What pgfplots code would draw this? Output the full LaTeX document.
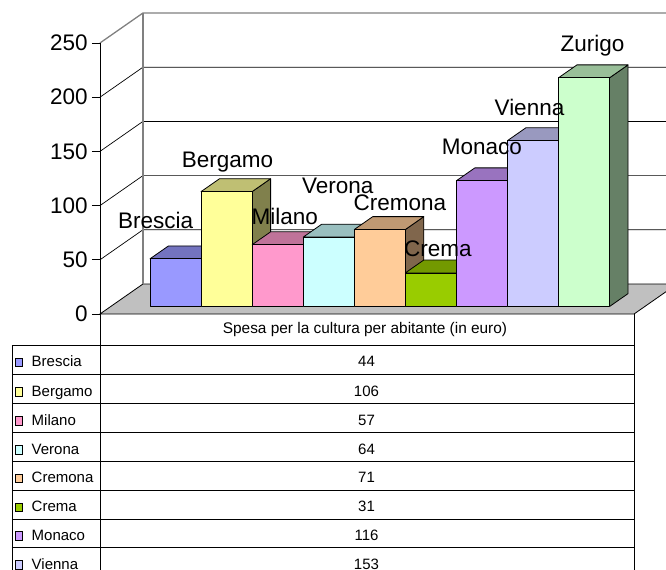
\documentclass[border=0pt]{standalone}
\usepackage{pgfplots}
\pgfplotsset{compat=1.18}
\usepackage{fontspec}
\setmainfont{Liberation Sans}
\definecolor{cBrescia}{HTML}{9999FF}
\definecolor{cBergamo}{HTML}{FFFF99}
\definecolor{cMilano}{HTML}{FF99CC}
\definecolor{cVerona}{HTML}{CCFFFF}
\definecolor{cCremona}{HTML}{FFCC99}
\definecolor{cCrema}{HTML}{99CC00}
\definecolor{cMonaco}{HTML}{CC99FF}
\definecolor{cVienna}{HTML}{CCCCFF}
\definecolor{cZurigo}{HTML}{CCFFCC}
\definecolor{floorgray}{HTML}{C0C0C0}
\definecolor{wallgray}{HTML}{808080}
\newcommand{\bigf}{\fontsize{22.5}{27}\selectfont}
\newcommand{\smallf}{\fontsize{15}{18}\selectfont}
\newcommand{\headf}{\fontsize{15.4}{18}\selectfont}
% #1 left, #2 right, #3 value, #4 colour
\newcommand{\cbar}[4]{%
 \addplot3[draw=black,line width=0.8pt,line join=round,fill=#4!50!black] coordinates {(#2,0.25,0) (#2,0.68,0) (#2,0.68,#3) (#2,0.25,#3)} -- cycle;
 \addplot3[draw=black,line width=0.8pt,line join=round,fill=#4!75!black] coordinates {(#1,0.25,#3) (#2,0.25,#3) (#2,0.68,#3) (#1,0.68,#3)} -- cycle;
 \addplot3[draw=black,line width=0.8pt,line join=round,fill=#4] coordinates {(#1,0.25,0) (#2,0.25,0) (#2,0.25,#3) (#1,0.25,#3)} -- cycle;
}
\begin{document}
\begin{tikzpicture}
\begin{axis}[hide axis, clip=false,
  x={(51.06pt,0pt)}, y={(43pt,30pt)}, z={(0pt,1.084pt)},
  xmin=-1.27, xmax=9.19, ymin=0, ymax=1, zmin=0, zmax=250]
% floor
\addplot3[draw=black, line width=0.8pt, fill=floorgray] coordinates {(-1.27,0,0) (9.19,0,0) (9.19,1,0) (-1.27,1,0)} -- cycle;
% gridlines (left wall + back wall)
\addplot3[black, line width=0.7pt] coordinates {(-1.27,0,50) (-1.27,1,50) (9.19,1,50)};
\addplot3[black, line width=0.7pt] coordinates {(-1.27,0,100) (-1.27,1,100) (9.19,1,100)};
\addplot3[black, line width=0.7pt] coordinates {(-1.27,0,150) (-1.27,1,150) (9.19,1,150)};
\addplot3[black, line width=0.7pt] coordinates {(-1.27,0,200) (-1.27,1,200) (9.19,1,200)};
% wall borders
\addplot3[wallgray, line width=1.3pt] coordinates {(-1.27,0,250) (-1.27,1,250) (9.19,1,250)};
\addplot3[wallgray, line width=1.3pt] coordinates {(-1.27,1,0) (-1.27,1,250)};
% front value axis
\addplot3[black, line width=0.8pt] coordinates {(-1.27,0,0) (-1.27,0,250)};
\addplot3[black, line width=0.8pt] coordinates {(-1.43,0,0) (-1.27,0,0)};
\addplot3[black, line width=0.8pt] coordinates {(-1.43,0,50) (-1.27,0,50)};
\addplot3[black, line width=0.8pt] coordinates {(-1.43,0,100) (-1.27,0,100)};
\addplot3[black, line width=0.8pt] coordinates {(-1.43,0,150) (-1.27,0,150)};
\addplot3[black, line width=0.8pt] coordinates {(-1.43,0,200) (-1.27,0,200)};
\addplot3[black, line width=0.8pt] coordinates {(-1.43,0,250) (-1.27,0,250)};
\pgfplotsinvokeforeach{0,50,100,150,200,250}{
  \node[anchor=east, xshift=-12pt, font=\bigf, inner sep=0pt] at (axis cs:-1.27,0,#1) {#1};
}
% bars
\cbar{-0.5}{0.5}{44}{cBrescia}
\cbar{0.5}{1.5}{106}{cBergamo}
\cbar{1.5}{2.5}{57}{cMilano}
\cbar{2.5}{3.5}{64}{cVerona}
\cbar{3.5}{4.5}{71}{cCremona}
\cbar{4.5}{5.5}{31}{cCrema}
\cbar{5.5}{6.5}{116}{cMonaco}
\cbar{6.5}{7.5}{153}{cVienna}
\cbar{7.5}{8.5}{211}{cZurigo}
% category labels
\node[anchor=base, font=\bigf, inner sep=0pt, xshift=-20pt, yshift=30.5pt] at (axis cs:0,0.25,44) {Brescia};
\node[anchor=base, font=\bigf, inner sep=0pt, xshift=1pt, yshift=23.9pt] at (axis cs:1,0.25,106) {Bergamo};
\node[anchor=base, font=\bigf, inner sep=0pt, xshift=7pt, yshift=20.7pt] at (axis cs:2,0.25,57) {Milano};
\node[anchor=base, font=\bigf, inner sep=0pt, xshift=9pt, yshift=43.8pt] at (axis cs:3,0.25,64) {Verona};
\node[anchor=base, font=\bigf, inner sep=0pt, xshift=20pt, yshift=19.5pt] at (axis cs:4,0.25,71) {Cremona};
\node[anchor=base, font=\bigf, inner sep=0pt, xshift=7pt, yshift=16.2pt] at (axis cs:5,0.25,31) {Crema};
\node[anchor=base, font=\bigf, inner sep=0pt, xshift=0pt, yshift=25.8pt] at (axis cs:6,0.25,116) {Monaco};
\node[anchor=base, font=\bigf, inner sep=0pt, xshift=-3.5pt, yshift=25.6pt] at (axis cs:7,0.25,153) {Vienna};
\node[anchor=base, font=\bigf, inner sep=0pt, xshift=8.5pt, yshift=26.1pt] at (axis cs:8,0.25,211) {Zurigo};
\coordinate (TL) at (axis cs:-3.2275,0,289.67);
\coordinate (BR) at (axis cs:9.8159,0,-235.24);
\end{axis}
% data table (pixel coordinates from top-left)
\begin{scope}[shift={(TL)}, x=1pt, y=-1pt, line width=0.8pt]
\draw (100,314) -- (100,585);
\draw (634,314) -- (634,585);
\draw (12,345) -- (12,585);
\foreach \yy in {345,374.5,403.5,432.5,461.5,490,519,547.5}
  \draw (12,\yy) -- (634,\yy);
\node[anchor=base, font=\headf, inner sep=0pt] at (365,333.5) {Spesa per la cultura per abitante (in euro)};
\foreach \cc/\nn/\vv/\yc in {cBrescia/Brescia/44/359.75, cBergamo/Bergamo/106/389, cMilano/Milano/57/418, cVerona/Verona/64/447, cCremona/Cremona/71/475.75, cCrema/Crema/31/504.5, cMonaco/Monaco/116/533.25, cVienna/Vienna/153/562, cZurigo/Zurigo/211/591}{
  \draw[line width=0.6pt, fill=\cc] (15.8,\yc-1.5) rectangle (22.3,\yc+7);
  \node[anchor=base west, font=\smallf, inner sep=0pt] at (31.3,\yc+7) {\nn};
  \node[anchor=base, font=\smallf, inner sep=0pt] at (366.5,\yc+7) {\vv};
}
\end{scope}
\pgfresetboundingbox
\useasboundingbox (TL) rectangle (BR);
\end{tikzpicture}
\end{document}
